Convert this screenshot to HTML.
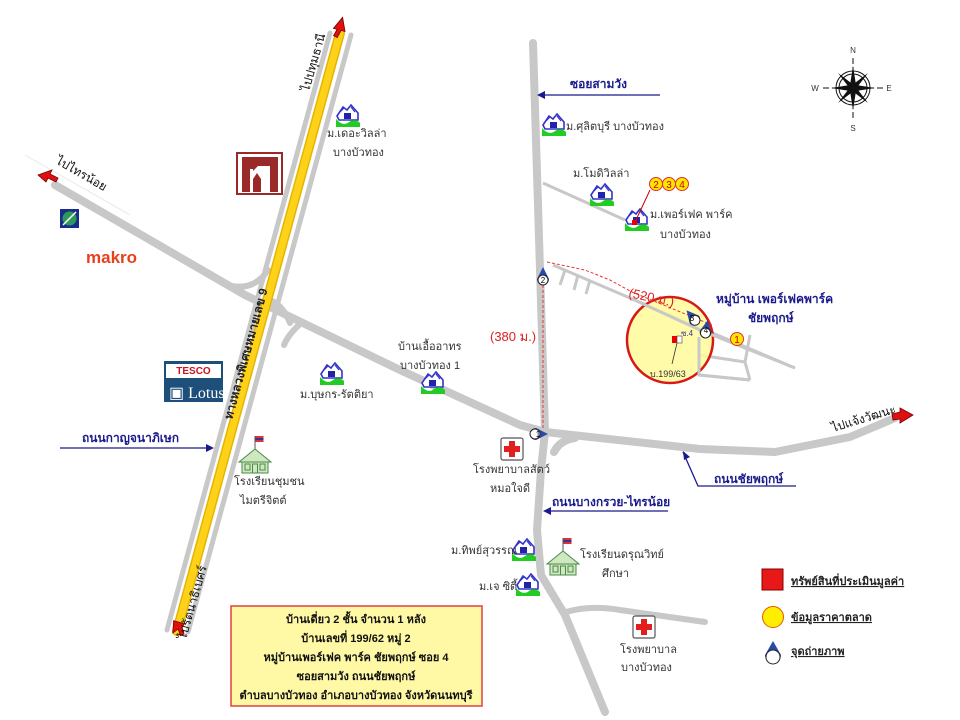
<!DOCTYPE html>
<html><head><meta charset="utf-8"><style>
html,body{margin:0;padding:0;background:#fff;}
svg{display:block;font-family:"Liberation Sans","Noto Sans CJK SC",sans-serif;}
.t{font-size:11px;fill:#333;}
.b{font-size:12px;font-weight:bold;fill:#1a1a8c;}
</style></head><body>
<svg width="960" height="720" viewBox="0 0 960 720" xmlns="http://www.w3.org/2000/svg">
<defs>
<g id="house">
<path d="M0,12 L6,3 L10,6 L14,1 L21,9 L21,16 L2,16 Z" fill="#fff" stroke="#3333cc" stroke-width="1.6"/>
<path d="M3,8 L7,4 M14,3 L18,8" stroke="#3333cc" stroke-width="1.2"/>
<rect x="7" y="9" width="7" height="6" fill="#2222aa"/>
<path d="M-1,15 Q6,23 12,18 Q18,14 23,19 L23,23 L-1,23 Z" fill="#22cc22"/>
</g>
<g id="hosp">
<rect x="0" y="0" width="22" height="22" rx="2" fill="#fff" stroke="#555" stroke-width="1.2"/>
<path d="M8,3 h6 v5 h5 v6 h-5 v5 h-6 v-5 h-5 v-6 h5 z" fill="#e31e1e"/>
</g>
<g id="school">
<rect x="-0.5" y="-22" width="1" height="14" fill="#555"/>
<rect x="0.5" y="-22" width="8" height="6" fill="#d33"/>
<rect x="0.5" y="-20" width="8" height="2" fill="#339"/>
<path d="M-16,4 L0,-9 L16,4 Z" fill="#cfe8c0" stroke="#4a8a4a"/>
<rect x="-13" y="4" width="26" height="11" fill="#cfe8c0" stroke="#4a8a4a"/>
<rect x="-10" y="6" width="5" height="6" fill="none" stroke="#4a8a4a"/>
<rect x="-2.5" y="6" width="5" height="9" fill="none" stroke="#4a8a4a"/>
<rect x="5" y="6" width="5" height="6" fill="none" stroke="#4a8a4a"/>
</g>
<g id="cam">
<path d="M0,-10 L6,2 A6,6 0 1 1 -6,2 Z" fill="#2a4aa8"/>
<circle cx="0" cy="3" r="5" fill="#fff" stroke="#222"/>
</g>
</defs>

<g fill="none" stroke="#c8c8c8" stroke-width="8" stroke-linejoin="round" stroke-linecap="round">
<polyline points="55,185 245,295 400,370 520,425 545,432"/>
<polyline points="545,432 700,449 775,452 850,437 895,418"/>
<polyline points="533,43 545,432 541,470 537,530 541,575 565,615 605,712"/>
<path d="M554,452 Q560,440 575,438"/>
<path d="M566,612 Q590,605 620,610 L705,622" stroke-width="6"/>
<path d="M232,286 Q255,290 268,270" stroke-width="6"/>
<path d="M290,323 Q283,305 270,300" stroke-width="6"/>
<path d="M260,305 Q248,318 254,335" stroke-width="6"/>
<path d="M300,324 Q288,335 284,345" stroke-width="6"/>
</g>
<g fill="none" stroke="#c8c8c8" stroke-width="3">
<line x1="543" y1="183" x2="625" y2="220"/>
<polyline points="553,265 630,298 795,368"/>
<line x1="565" y1="270" x2="560" y2="285"/>
<line x1="578" y1="275" x2="574" y2="290"/>
<line x1="590" y1="280" x2="586" y2="294"/>
<polyline points="699,337 699,375 750,380"/>
<polyline points="699,355 745,362 750,380"/>
<polyline points="745,362 750,335"/>
</g>
<line x1="25" y1="155" x2="130" y2="215" stroke="#e8e8e8" stroke-width="1"/>

<g stroke-linecap="round">
<line x1="330" y1="33" x2="167" y2="630" stroke="#c8c8c8" stroke-width="5"/>
<line x1="351" y1="35" x2="188" y2="632" stroke="#c8c8c8" stroke-width="5"/>
<line x1="340" y1="33" x2="177" y2="631" stroke="#e6b400" stroke-width="10"/>
<line x1="340" y1="33" x2="177" y2="631" stroke="#ffd21a" stroke-width="7"/>
</g>
<text transform="translate(232,420) rotate(-74.7)" font-size="12" font-weight="bold" fill="#222">ทางหลวงพิเศษหมายเลข 9</text>

<g fill="#e01010" stroke="#700" stroke-width="0.8">
<path d="M334,30 L340,17 L346,30 L342,30 L340,38 L336,37 L338,30Z" transform="rotate(15 340 27)"/>
<path d="M38,175 L52,170 L50,174 L58,178 L56,182 L48,178 L46,182Z"/>
<path d="M175,620 L185,625 L182,628 L183,635 L179,636 L178,629 L172,632Z" transform="rotate(-10 178 628)"/>
<path d="M900,408 L913,415 L900,423 L900,419 L893,420 L892,414 L900,412Z"/>
</g>
<text transform="translate(309,92) rotate(-74)" font-size="12" fill="#111">ไปปทุมธานี</text>
<text transform="translate(55,163) rotate(30)" font-size="12" fill="#111">ไปไทรน้อย</text>
<text transform="translate(186,640) rotate(-74)" font-size="12" fill="#111">ไปรัตนาธิเบศร์</text>
<text transform="translate(833,432) rotate(-17)" font-size="12" fill="#111">ไปแจ้งวัฒนะ</text>

<rect x="237" y="153" width="45" height="41" fill="#fff" stroke="#9a2a2a" stroke-width="2"/>
<path d="M242,157 h36 v35 h-8 v-26 h-12 l-5,5 v-2 h-3 v23 h-8z" fill="#9a2a2a"/>
<path d="M253,192 v-13 l4,-6 l4,6 v13z" fill="#9a2a2a"/>
<rect x="60" y="209" width="19" height="19" fill="#1a2d8a"/>
<circle cx="69.5" cy="218.5" r="7" fill="#2e9a5a"/>
<line x1="63" y1="225" x2="76" y2="212" stroke="#fff" stroke-width="1.5"/>
<text x="86" y="263" font-size="17" font-weight="bold" fill="#e8401c">makro</text>
<rect x="164" y="361" width="59" height="41" fill="#1e4e7a"/>
<rect x="166" y="364" width="55" height="14" fill="#fff"/>
<text x="193.5" y="374" text-anchor="middle" font-size="10" font-weight="bold" fill="#cc1122">TESCO</text>
<text x="169" y="398" font-family="Liberation Serif,serif" font-size="16" fill="#fff">▣ Lotus</text>

<use href="#house" x="337" y="104"/>
<text class="t" x="327" y="137">ม.เดอะวิลล่า</text><text class="t" x="333" y="156">บางบัวทอง</text>
<use href="#house" x="543" y="113"/>
<text class="t" x="566" y="130">ม.ศุลิตบุรี บางบัวทอง</text>
<text class="t" x="573" y="177">ม.โมดิวิลล่า</text>
<use href="#house" x="591" y="183"/>
<use href="#house" x="626" y="208"/>
<rect x="632" y="220" width="5" height="5" fill="#e00"/>
<text class="t" x="650" y="218">ม.เพอร์เฟค พาร์ค</text><text class="t" x="660" y="238">บางบัวทอง</text>
<line x1="636" y1="220" x2="650" y2="190" stroke="#c00" stroke-width="1"/>
<g font-size="10" fill="#c00" text-anchor="middle">
<circle cx="656" cy="184" r="6.5" fill="#ffe600" stroke="#d33"/><text x="656" y="188">2</text>
<circle cx="669" cy="184" r="6.5" fill="#ffe600" stroke="#d33"/><text x="669" y="188">3</text>
<circle cx="682" cy="184" r="6.5" fill="#ffe600" stroke="#d33"/><text x="682" y="188">4</text>
</g>
<use href="#house" x="321" y="362"/>
<text class="t" x="300" y="398">ม.บุษกร-รัตติยา</text>
<text class="t" x="398" y="350">บ้านเอื้ออาทร</text><text class="t" x="400" y="369">บางบัวทอง 1</text>
<use href="#house" x="422" y="371"/>
<use href="#house" x="513" y="538"/>
<text class="t" x="451" y="554">ม.ทิพย์สุวรรณ</text>
<use href="#house" x="517" y="573"/>
<text class="t" x="479" y="590">ม.เจ ซิตี้</text>

<use href="#school" x="255" y="458"/>
<text class="t" x="234" y="485">โรงเรียนชุมชน</text><text class="t" x="240" y="504">ไมตรีจิตต์</text>
<use href="#school" x="563" y="560"/>
<text class="t" x="580" y="558">โรงเรียนดรุณวิทย์</text><text class="t" x="602" y="577">ศึกษา</text>

<use href="#hosp" x="501" y="438"/>
<text class="t" x="473" y="473">โรงพยาบาลสัตว์</text><text class="t" x="490" y="492">หมอใจดี</text>
<use href="#hosp" x="633" y="616"/>
<text class="t" x="620" y="653">โรงพยาบาล</text><text class="t" x="621" y="671">บางบัวทอง</text>

<g stroke="#1a1a8c" fill="none" stroke-width="1.3">
<line x1="543" y1="95" x2="660" y2="95"/>
<line x1="60" y1="448" x2="208" y2="448"/>
<polyline points="683,452 698,486 796,486"/>
<line x1="545" y1="511" x2="668" y2="511"/>
</g>
<g fill="#1a1a8c">
<path d="M537,95 l8,-4 v8z"/><path d="M214,448 l-8,-4 v8z"/>
<path d="M683,451 l1,9 l6,-3z"/><path d="M543,511 l8,-4 v8z"/>
</g>
<text class="b" x="570" y="88">ซอยสามวัง</text>
<text class="b" x="82" y="442">ถนนกาญจนาภิเษก</text>
<text class="b" x="714" y="483">ถนนชัยพฤกษ์</text>
<text class="b" x="552" y="506">ถนนบางกรวย-ไทรน้อย</text>

<circle cx="670" cy="340" r="43" fill="#fffa9a" fill-opacity="0.85" stroke="#d81818" stroke-width="2.5"/>
<g stroke="#c8c8c8" stroke-width="3" fill="none">
<polyline points="630,298 700,330 795,368"/>
<polyline points="699,337 699,375 750,380"/>
</g>
<polyline points="547,262 585,270 610,280 632,292 712,325" fill="none" stroke="#e33" stroke-width="1" stroke-dasharray="3,2"/>
<polyline points="543,270 543,430" fill="none" stroke="#e33" stroke-width="1" stroke-dasharray="3,2"/>
<text x="490" y="341" font-size="13" fill="#d22">(380 ม.)</text>
<text x="628" y="297" font-size="13" fill="#d22" transform="rotate(12 628 297)">(520 ม.)</text>
<rect x="672" y="336" width="5" height="7" fill="#e00"/><rect x="677" y="336" width="5" height="7" fill="#fff" stroke="#444" stroke-width="0.6"/>
<line x1="677" y1="343" x2="672" y2="364" stroke="#333" stroke-width="0.8"/>
<text x="650" y="377" font-size="9" fill="#333">บ.199/63</text>
<text x="681" y="336" font-size="8" fill="#339">ซ.4</text>
<use href="#cam" x="693" y="318" transform="rotate(-40 693 318)"/>
<use href="#cam" x="706" y="330" transform="rotate(10 706 330)"/>
<use href="#cam" x="543" y="277"/>
<use href="#cam" x="538" y="434" transform="rotate(90 538 434)"/>
<g font-size="8" fill="#000" text-anchor="middle"><text x="543" y="283">2</text><text x="538" y="437">1</text><text x="692" y="321">3</text><text x="706" y="333">4</text></g>
<circle cx="737" cy="339" r="6.5" fill="#ffe600" stroke="#d33"/><text x="737" y="343" font-size="10" fill="#c00" text-anchor="middle">1</text>
<text class="b" x="716" y="303" font-size="13">หมู่บ้าน เพอร์เฟคพาร์ค</text>
<text class="b" x="748" y="322">ชัยพฤกษ์</text>

<g stroke="#111" fill="none">
<circle cx="853" cy="88" r="17"/><circle cx="853" cy="88" r="14"/>
<line x1="853" y1="58" x2="853" y2="118" stroke-dasharray="6,3"/>
<line x1="823" y1="88" x2="883" y2="88" stroke-dasharray="6,3"/>
</g>
<path d="M853,66 L856,85 L875,88 L856,91 L853,110 L850,91 L831,88 L850,85Z" fill="#111"/>
<path d="M838,73 L855,86 L868,103 L851,90Z M868,73 L855,90 L838,103 L851,86Z" fill="#111"/>
<g font-size="8" fill="#333" text-anchor="middle"><text x="853" y="53">N</text><text x="853" y="131">S</text><text x="815" y="91">W</text><text x="889" y="91">E</text></g>

<rect x="231" y="606" width="251" height="100" fill="#fff9a6" stroke="#e04040" stroke-width="1.5"/>
<g font-size="11" font-weight="bold" fill="#111" text-anchor="middle">
<text x="356" y="623">บ้านเดี่ยว 2 ชั้น  จำนวน 1 หลัง</text>
<text x="356" y="642">บ้านเลขที่ 199/62 หมู่ 2</text>
<text x="356" y="661">หมู่บ้านเพอร์เฟค พาร์ค ชัยพฤกษ์ ซอย 4</text>
<text x="356" y="680">ซอยสามวัง ถนนชัยพฤกษ์</text>
<text x="356" y="699">ตำบลบางบัวทอง อำเภอบางบัวทอง จังหวัดนนทบุรี</text>
</g>

<rect x="762" y="569" width="21" height="21" fill="#e81818" stroke="#800"/>
<circle cx="773" cy="617" r="10.5" fill="#ffee00" stroke="#e05a00"/>
<path d="M773,641 L781,655 A8,8 0 1 1 765,655 Z" fill="#2a4aa8"/>
<circle cx="773" cy="657" r="7" fill="#fff" stroke="#222"/>
<g font-size="11" font-weight="bold" fill="#222" text-decoration="underline">
<text x="791" y="585">ทรัพย์สินที่ประเมินมูลค่า</text>
<text x="791" y="621">ข้อมูลราคาตลาด</text>
<text x="791" y="655">จุดถ่ายภาพ</text>
</g>
</svg>
</body></html>
